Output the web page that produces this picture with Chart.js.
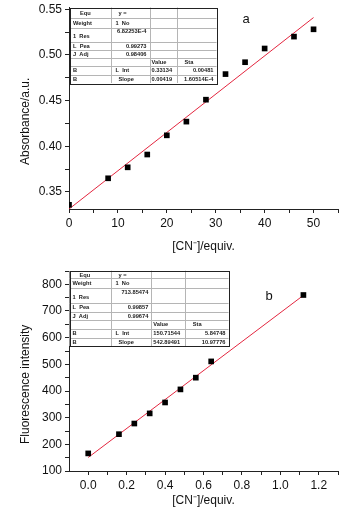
<!DOCTYPE html>
<html>
<head>
<meta charset="utf-8">
<script src="https://cdn.jsdelivr.net/npm/chart.js@4"></script>
<style>
  html, body { margin: 0; padding: 0; background: #fff; }
  .box { position: relative; width: 355px; }
  #boxA { height: 255px; }
  #boxB { height: 256px; }
</style>
</head>
<body>
<div class="box" id="boxA"><canvas id="absChart"></canvas></div>
<div class="box" id="boxB"><canvas id="fluChart"></canvas></div>
<script>
// (a) absorbance vs equivalents of cyanide
const absEquiv = [0, 8, 12, 16, 20, 24, 28, 32, 36, 40, 46, 50];
const absValues = [0.336, 0.365, 0.377, 0.391, 0.412, 0.427, 0.451, 0.479, 0.492, 0.507, 0.520, 0.528];
const absFit = [0.33134, 0.00419];   // intercept, slope
const absFitRange = [0, 50];
const absXTicks = [0, 5, 10, 15, 20, 25, 30, 35, 40, 45, 50, 55];
const absYTicks = [0.35, 0.375, 0.40, 0.425, 0.45, 0.475, 0.50, 0.525, 0.55];

// (b) fluorescence intensity vs equivalents of cyanide
const fluEquiv = [0, 0.16, 0.24, 0.32, 0.40, 0.48, 0.56, 0.64, 1.12];
const fluValues = [166, 238, 278, 316, 357, 406, 450, 511, 760];
const fluFit = [150.71544, 542.89491];
const fluFitRange = [0, 1.12];
const fluXTicks = [0, 0.1, 0.2, 0.3, 0.4, 0.5, 0.6, 0.7, 0.8, 0.9, 1.0, 1.1, 1.2, 1.3];
const fluYTicks = [100, 150, 200, 250, 300, 350, 400, 450, 500, 550, 600, 650, 700, 750, 800, 850];

// fit result tables (origin style)
const tableA = [
  ['Equ', 'y =', '', ''],
  ['Weight', '1  No', '', ''],
  ['1  Res', '6.82253E-4', '', ''],
  ['L  Pea', '0.99273', '', ''],
  ['J  Adj', '0.98406', '', ''],
  ['', '', 'Value', 'Sta'],
  ['B', 'L  Int', '0.33134', '0.00481'],
  ['B', 'Slope', '0.00419', '1.60514E-4']
];
const tableB = [
  ['Equ', 'y =', '', ''],
  ['Weight', '1  No', '', ''],
  ['1  Res', '713.85474', '', ''],
  ['L  Pea', '0.99857', '', ''],
  ['J  Adj', '0.99674', '', ''],
  ['', '', 'Value', 'Sta'],
  ['B', 'L  Int', '150.71544', '5.84748'],
  ['B', 'Slope', '542.89491', '10.97776']
];

const FONT = '"Liberation Sans", Arial, sans-serif';
const RED = '#e3263f';
const TITLE_SHIFT = '        '; // pushes the rotated y titles a little lower

function fitLine(fit, range) {
  return range.map(x => ({ x: x, y: fit[0] + fit[1] * x }));
}

function isMajor(v, step) {
  return Math.abs(v / step - Math.round(v / step)) < 1e-6;
}

// draws the parameter table and the panel letter
const tablePlugin = {
  id: 'fitTable',
  afterDraw(chart, args, opts) {
    const ctx = chart.ctx;
    const xs = opts.cols, ys = opts.rows;
    const x0 = xs[0], x1 = xs[xs.length - 1], y0 = ys[0], y1 = ys[ys.length - 1];
    ctx.save();
    ctx.fillStyle = '#fff';
    ctx.fillRect(x0, y0, x1 - x0, y1 - y0);
    ctx.strokeStyle = '#b5b5b5';
    ctx.lineWidth = 1;
    ctx.beginPath();
    for (let i = 1; i < ys.length - 1; i++) {
      ctx.moveTo(x0, Math.round(ys[i]) + 0.5);
      ctx.lineTo(x1, Math.round(ys[i]) + 0.5);
    }
    for (let i = 1; i < xs.length - 1; i++) {
      ctx.moveTo(Math.round(xs[i]) + 0.5, y0);
      ctx.lineTo(Math.round(xs[i]) + 0.5, y1);
    }
    ctx.stroke();
    ctx.strokeStyle = '#222';
    ctx.strokeRect(Math.round(x0) + 0.5, Math.round(y0) + 0.5, Math.round(x1 - x0), Math.round(y1 - y0));

    ctx.fillStyle = '#222';
    ctx.font = 'bold 5.7px ' + FONT;
    ctx.textBaseline = 'middle';
    opts.cells.forEach((row, r) => {
      const cy = (ys[r] + ys[r + 1]) / 2 + 0.5;
      row.forEach((txt, c) => {
        if (!txt) return;
        let right = false;
        if (c === 1 && r >= 2 && r <= 4) right = true;
        if (c === 3 && r >= 6) right = true;
        let y = cy;
        if (c === 1 && r === 2) y = ys[r] + 4;
        if (c === 0 && r === 2) y = cy + 1.5;
        if (right) {
          ctx.textAlign = 'right';
          ctx.fillText(txt, xs[c + 1] - 3, y);
        } else {
          ctx.textAlign = 'left';
          let indent = 3;
          if (c === 0 && r === 0) indent = 10;
          if (c === 1 && (r === 0 || r === 7)) indent = 8;
          if (c === 1 && (r === 1 || r === 6)) indent = 5;
          if (c === 3 && r === 5) indent = 8;
          if (c === 2) indent = 2;
          // clip long text to its cell
          ctx.save();
          ctx.beginPath();
          ctx.rect(xs[c], ys[r], xs[c + 1] - xs[c], ys[r + 1] - ys[r]);
          ctx.clip();
          ctx.fillText(txt, xs[c] + indent, y);
          ctx.restore();
        }
      });
    });

    ctx.font = '13px ' + FONT;
    ctx.textAlign = 'center';
    ctx.fillStyle = '#111';
    ctx.fillText(opts.letter, opts.letterAt[0], opts.letterAt[1]);
    ctx.restore();
  }
};

function makeChart(id, cfg) {
  return new Chart(document.getElementById(id), {
    type: 'scatter',
    data: {
      datasets: [{
        data: cfg.xs.map((x, i) => ({ x: x, y: cfg.ys[i] })),
        pointStyle: 'rect',
        pointRadius: 4,
        pointBackgroundColor: '#000',
        pointBorderColor: '#000',
        pointBorderWidth: 0,
        showLine: false
      }, {
        data: cfg.line,
        showLine: true,
        borderColor: RED,
        borderWidth: 1,
        pointRadius: 0
      }]
    },
    options: {
      responsive: true,
      maintainAspectRatio: false,
      animation: false,
      events: [],
      layout: { padding: { top: cfg.top, right: 17, left: 0, bottom: 0 } },
      plugins: {
        legend: { display: false },
        tooltip: { enabled: false },
        fitTable: cfg.table
      },
      scales: {
        x: {
          type: 'linear',
          min: cfg.xMin, max: cfg.xMax,
          afterBuildTicks: s => { s.ticks = cfg.xTicks.map(v => ({ value: v })); },
          afterFit: s => { s.height = cfg.xHeight; s.paddingLeft = 0; s.paddingRight = 0; s.paddingTop = 0; s.paddingBottom = 0; },
          grid: { drawOnChartArea: false, tickLength: 4, tickColor: '#222' },
          border: { color: '#222', width: 1 },
          ticks: {
            color: '#111', padding: 3, maxRotation: 0, autoSkip: false,
            font: { family: FONT, size: 12 },
            callback: v => isMajor(v, cfg.xStep) ? cfg.xFmt(v) : ''
          },
          title: {
            display: true, text: '[CN\u207B]/equiv.', color: '#111',
            font: { family: FONT, size: 12 }, padding: { top: 0, bottom: cfg.xTitlePad }
          }
        },
        y: {
          type: 'linear',
          min: cfg.yMin, max: cfg.yMax,
          afterBuildTicks: s => { s.ticks = cfg.yTicks.map(v => ({ value: v })); },
          afterFit: s => { s.width = 69; s.paddingLeft = 0; s.paddingRight = 0; s.paddingTop = 0; s.paddingBottom = 0; },
          grid: { drawOnChartArea: false, tickLength: 4, tickColor: '#222' },
          border: { color: '#222', width: 1 },
          ticks: {
            color: '#111', padding: 3, autoSkip: false,
            font: { family: FONT, size: 12 },
            callback: v => isMajor(v, cfg.yStep) ? cfg.yFmt(v) : ''
          },
          title: {
            display: true, text: cfg.yTitle + TITLE_SHIFT, color: '#111',
            font: { family: FONT, size: 12 }, padding: { top: 18, bottom: 0 }
          }
        }
      }
    },
    plugins: [tablePlugin]
  });
}

makeChart('absChart', {
  xs: absEquiv, ys: absValues, line: fitLine(absFit, absFitRange),
  top: 7, xHeight: 46, xTitlePad: 1,
  xMin: 0, xMax: 55, xTicks: absXTicks, xStep: 10, xFmt: v => String(Math.round(v)),
  yMin: 0.3314, yMax: 0.5524, yTicks: absYTicks, yStep: 0.05, yFmt: v => v.toFixed(2),
  yTitle: 'Absorbance/a.u.',
  table: {
    cols: [70, 110.5, 149.5, 176.5, 216.5],
    rows: [7.5, 17.8, 27.5, 42, 49.7, 58.2, 65.7, 74.5, 83],
    cells: tableA, letter: 'a', letterAt: [246, 19]
  }
});

makeChart('fluChart', {
  xs: fluEquiv, ys: fluValues, line: fitLine(fluFit, fluFitRange),
  top: 16, xHeight: 40, xTitlePad: 3,
  xMin: -0.1, xMax: 1.3, xTicks: fluXTicks, xStep: 0.2, xFmt: v => v.toFixed(1),
  yMin: 100, yMax: 850, yTicks: fluYTicks, yStep: 100, yFmt: v => String(Math.round(v)),
  yTitle: 'Fluorescence intensity',
  table: {
    cols: [69.5, 110.5, 151.3, 184.7, 228.5],
    rows: [15.7, 23.3, 33, 47.5, 57, 65.3, 73.5, 82.8, 91],
    cells: tableB, letter: 'b', letterAt: [269, 41]
  }
});
</script>
</body>
</html>
